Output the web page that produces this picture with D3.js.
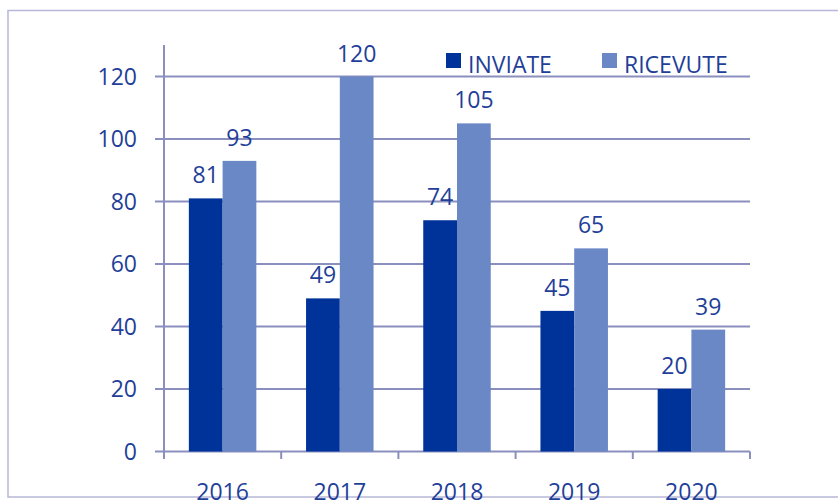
<!DOCTYPE html>
<html>
<head>
<meta charset="utf-8">
<script src="https://cdn.jsdelivr.net/npm/d3@7"></script>
<style>
  body { margin: 0; background: #fff; }
  svg text { font-family: 'Open Sans', sans-serif; fill: #1f3f99; }
</style>
</head>
<body>
<script>
const width = 838;
const height = 500;

const years = ['2016', '2017', '2018', '2019', '2020'];
const inviate = [81, 49, 74, 45, 20];
const ricevute = [93, 120, 105, 65, 39];
const seriesNames = ['INVIATE', 'RICEVUTE'];
const yTicks = [0, 20, 40, 60, 80, 100, 120];

const colors = ['#003399', '#6b88c6'];
const gridColor = '#8b8fbd';

const svg = d3.select('body').append('svg')
  .attr('width', width)
  .attr('height', height);

// outer frame
svg.append('rect')
  .attr('x', 8).attr('y', 10.5)
  .attr('width', 840).attr('height', 486.5)
  .attr('fill', 'none')
  .attr('stroke', '#b8b7d8')
  .attr('stroke-width', 1.5);

const x = d3.scaleBand()
  .domain(years)
  .range([164, 750]);

const y = d3.scaleLinear()
  .domain([0, 120])
  .range([451.5, 76.5]);

const inner = d3.scaleBand()
  .domain(seriesNames)
  .range([0, 67.5]);

const groupOffset = (x.bandwidth() - 67.5) / 2;

// gridlines (with left tick stubs)
svg.append('g')
  .selectAll('line')
  .data(yTicks)
  .enter().append('line')
    .attr('x1', 155)
    .attr('x2', 750)
    .attr('y1', d => y(d))
    .attr('y2', d => y(d))
    .attr('stroke', gridColor)
    .attr('stroke-width', 2);

// y axis line
svg.append('line')
  .attr('x1', 164).attr('x2', 164)
  .attr('y1', 45).attr('y2', 459)
  .attr('stroke', gridColor)
  .attr('stroke-width', 2);

// x ticks at category boundaries
const boundaries = years.map(d => x(d)).concat([x.range()[1]]);
svg.append('g')
  .selectAll('line')
  .data(boundaries)
  .enter().append('line')
    .attr('x1', d => d).attr('x2', d => d)
    .attr('y1', 451.5).attr('y2', 459)
    .attr('stroke', gridColor)
    .attr('stroke-width', 2);

// y labels
svg.append('g')
  .selectAll('text')
  .data(yTicks)
  .enter().append('text')
    .attr('x', 137)
    .attr('y', d => y(d) + 8)
    .attr('text-anchor', 'end')
    .style('font-size', '23px')
    .text(d => d);

// x labels (cut by the frame, as in the original)
svg.append('g')
  .selectAll('text')
  .data(years)
  .enter().append('text')
    .attr('x', d => x(d) + x.bandwidth() / 2)
    .attr('y', 500)
    .attr('text-anchor', 'middle')
    .style('font-size', '23px')
    .text(d => d);

// bars
const series = [inviate, ricevute];
series.forEach((vals, s) => {
  const g = svg.append('g');
  g.selectAll('rect')
    .data(vals)
    .enter().append('rect')
      .attr('x', (d, i) => x(years[i]) + groupOffset + inner(seriesNames[s]))
      .attr('y', d => y(d))
      .attr('width', inner.bandwidth())
      .attr('height', d => y(0) - y(d))
      .attr('fill', colors[s]);

  g.selectAll('text')
    .data(vals)
    .enter().append('text')
      .attr('x', (d, i) => x(years[i]) + groupOffset + inner(seriesNames[s]) + inner.bandwidth() / 2)
      .attr('y', d => y(d) - 15)
      .attr('text-anchor', 'middle')
      .style('font-size', '23px')
      .text(d => d);
});

// legend
const legendX = [446, 602];
const legend = svg.append('g')
  .selectAll('g')
  .data(seriesNames)
  .enter().append('g')
    .attr('transform', (d, i) => `translate(${legendX[i]},53)`);

legend.append('rect')
  .attr('width', 15).attr('height', 15)
  .attr('fill', (d, i) => colors[i]);

legend.append('text')
  .attr('x', 22)
  .attr('y', 20)
  .style('font-size', '23px')
  .text(d => d);
</script>
</body>
</html>
